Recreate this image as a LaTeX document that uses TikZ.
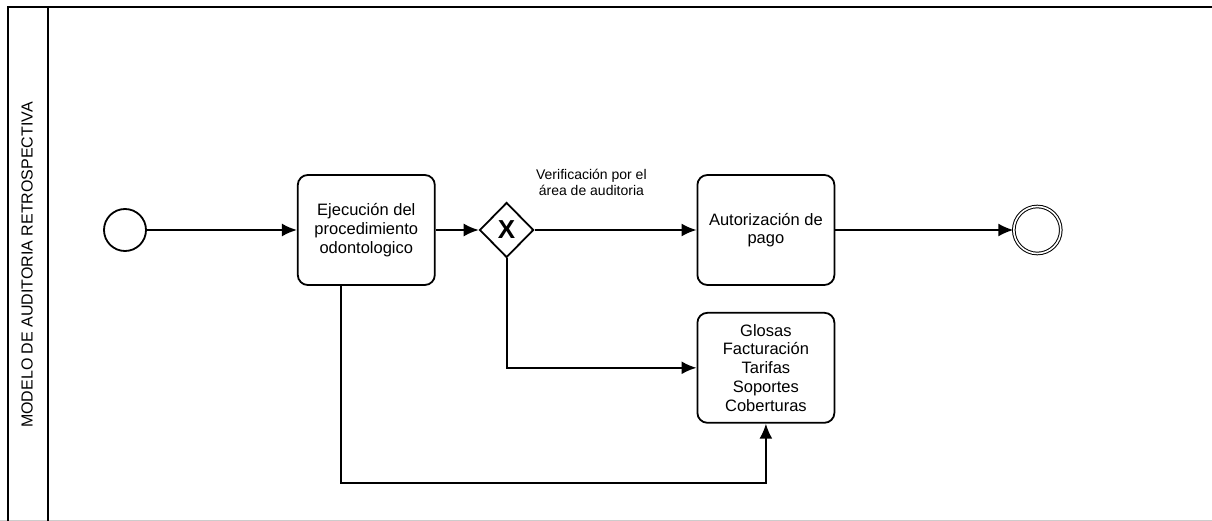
\documentclass[tikz,border=0pt]{standalone}
\usepackage{fontspec}
\setmainfont{Liberation Sans}
\usetikzlibrary{arrows.meta,positioning,shapes.geometric}

\begin{document}
\begin{tikzpicture}[x=1pt, y=1pt, node distance=1cm, auto]
\tikzset{
   tarea/.style={rectangle,rounded corners=10pt,draw=black, line width=1.8pt, fill=white, minimum width=137pt, minimum height=110pt, inner sep=2pt, align=center, font=\fontsize{16.5}{18.7}\selectfont},
   evento/.style={circle,draw=black, line width=1.8pt, minimum size=42pt, inner sep=0pt},
   eventofin/.style={circle,draw=black, double=white, double distance=1.6pt, line width=1pt, minimum size=47pt, inner sep=0pt},
   compuerta/.style={diamond,draw=black, line width=1.8pt, fill=white, minimum width=54pt, minimum height=55pt, inner sep=0pt, font=\fontsize{26}{26}\selectfont\bfseries},
   flujo/.style={-{Latex[length=15pt,width=13pt]}, line width=1.8pt},
}
\useasboundingbox (0,0) rectangle (1212,-521);

% carril
\draw[line width=0.8pt, gray!40] (0,-520) -- (1212,-520);
\draw[line width=2.2pt] (1212,-7) -- (8,-7) -- (8,-521);
\draw[line width=2.2pt] (48,-7) -- (48,-521);
\node[rotate=90, font=\fontsize{16}{16}\selectfont] (carril) at (27,-265) {MODELO DE AUDITORIA RETROSPECTIVA};

\node[evento] (inicio) at (125,-230) {};
\node[tarea, right=150pt of inicio] (ejecucion) {Ejecución del\\procedimiento\\odontologico};
\node[compuerta, right=43pt of ejecucion] (verifica) {X};
\node[tarea, right=162pt of verifica] (autoriza) {Autorización de\\pago};
\node[eventofin, right=178pt of autoriza] (fin) {};
\node[tarea, below=26pt of autoriza] (glosas) {Glosas\\Facturación\\Tarifas\\Soportes\\Coberturas};
\node[align=center, font=\fontsize{14}{16.5}\selectfont, above right=2pt and 26pt of verifica.north] (etiqueta) {Verificación por el\\área de auditoria};

\draw[flujo] (inicio.east) -- (ejecucion.west);
\draw[flujo] (ejecucion.east) -- (verifica.west);
\draw[flujo] (verifica.east) -- (autoriza.west);
\draw[flujo] (autoriza.east) -- (fin.west);
\draw[flujo] (verifica.south) |- (glosas.west);
\draw[flujo] ([xshift=44pt]ejecucion.south west) -- ++(0,-197) -| (glosas.south);

\end{tikzpicture}
\end{document}
